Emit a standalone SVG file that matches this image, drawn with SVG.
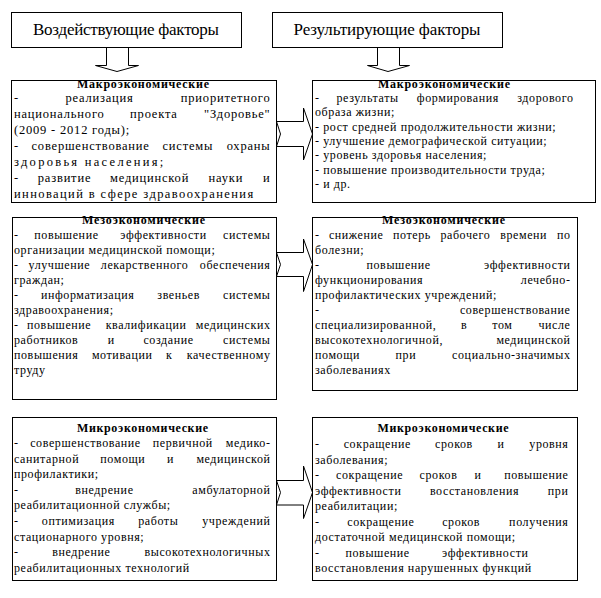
<svg xmlns="http://www.w3.org/2000/svg" width="601" height="598" viewBox="0 0 601 598" font-family="'Liberation Serif', 'Times New Roman', serif">
<style>
  .bx{fill:#fff;stroke:#000;stroke-width:1}
  .ar{fill:#fff;stroke:#000;stroke-width:1;stroke-linejoin:miter}
  text{font-family:'Liberation Serif','Times New Roman',serif;fill:#000}
  .h{font-size:17px;text-anchor:middle}
  .t{font-size:12px;font-weight:bold;text-anchor:middle}
  .b{font-size:12px;letter-spacing:0.6px}
  .b13{font-size:12.5px;letter-spacing:0.8px}
  .e{text-anchor:end}
</style>
<rect width="601" height="598" fill="#fff"/>

<g id="connectors">
  <polygon class="ar" points="106.5,47.5 106.5,65.5 95.5,65.5 117,71.5 138.5,65.5 128.5,65.5 128.5,47.5"/>
  <polygon class="ar" points="377.5,47.5 377.5,65.5 367.5,65.5 388,71.5 409.5,65.5 399.5,65.5 399.5,47.5"/>
  <polygon class="ar" points="276.5,121.5 303.5,121.5 303.5,108 312.5,134 303.5,160 303.5,146.5 276.5,146.5 280.5,134"/>
  <polygon class="ar" points="276.5,252.5 303.5,252.5 303.5,239 312.5,264.5 303.5,291.5 303.5,276.5 276.5,276.5 280.5,264.5"/>
  <polygon class="ar" points="276.5,480.5 303.5,480.5 303.5,466 312.5,492.5 303.5,518.5 303.5,505 276.5,505 280.5,492.5"/>
</g>

<g id="header-left">
  <rect class="bx" x="11.5" y="12.5" width="230" height="35"/>
  <text class="h" x="126" y="35" textLength="186" lengthAdjust="spacing">Воздействующие факторы</text>
</g>
<g id="header-right">
  <rect class="bx" x="272.5" y="12.5" width="230" height="35"/>
  <text class="h" x="387" y="35" textLength="187" lengthAdjust="spacing">Результирующие факторы</text>
</g>

<g id="macro-left">
  <rect class="bx" x="11.5" y="80.5" width="265" height="122"/>
  <text class="t" x="143" y="88" textLength="132" lengthAdjust="spacing">Макроэкономические</text>
  <text class="b13" x="14" y="102">-</text>
  <text class="b13" x="65.5" y="102">реализация</text>
  <text class="b13 e" x="270.5" y="102">приоритетного</text>
  <text class="b13" x="14" y="118">национального</text>
  <text class="b13" x="130.1" y="118">проекта</text>
  <text class="b13 e" x="270.5" y="118">"Здоровье"</text>
  <text class="b13" x="14" y="134">(2009 - 2012 годы);</text>
  <text class="b13" x="14" y="150">-</text>
  <text class="b13" x="31.5" y="150">совершенствование</text>
  <text class="b13" x="162.5" y="150">системы</text>
  <text class="b13 e" x="270.5" y="150">охраны</text>
  <text class="b13" x="14" y="166" textLength="150" lengthAdjust="spacing">здоровья населения;</text>
  <text class="b13" x="14" y="182">-</text>
  <text class="b13" x="37.8" y="182">развитие</text>
  <text class="b13" x="110" y="182">медицинской</text>
  <text class="b13" x="208.5" y="182">науки</text>
  <text class="b13 e" x="270.5" y="182">и</text>
  <text class="b13" x="14" y="198" textLength="240" lengthAdjust="spacing">инноваций в сфере здравоохранения</text>
</g>

<g id="macro-right">
  <rect class="bx" x="312.5" y="80.5" width="283" height="122"/>
  <text class="t" x="444" y="88" textLength="132" lengthAdjust="spacing">Макроэкономические</text>
  <text class="b" x="315" y="102">-</text>
  <text class="b" x="336.5" y="102">результаты</text>
  <text class="b" x="416.8" y="102">формирования</text>
  <text class="b e" x="573.5" y="102">здорового</text>
  <text class="b" x="315" y="116.3">образа жизни;</text>
  <text class="b" x="315" y="130.7">- рост средней продолжительности жизни;</text>
  <text class="b" x="315" y="145">- улучшение демографической ситуации;</text>
  <text class="b" x="315" y="159.3">- уровень здоровья населения;</text>
  <text class="b" x="315" y="173.7">- повышение производительности труда;</text>
  <text class="b" x="315" y="188">- и др.</text>
</g>

<g id="meso-left">
  <rect class="bx" x="12.5" y="217.5" width="264" height="182"/>
  <text class="t" x="143.5" y="224" textLength="123" lengthAdjust="spacing">Мезоэкономические</text>
  <text class="b" x="14" y="239">-</text>
  <text class="b" x="34.3" y="239">повышение</text>
  <text class="b" x="120.3" y="239">эффективности</text>
  <text class="b e" x="270.5" y="239">системы</text>
  <text class="b" x="14" y="254">организации медицинской помощи;</text>
  <text class="b" x="14" y="269">-</text>
  <text class="b" x="28.6" y="269">улучшение</text>
  <text class="b" x="100.8" y="269">лекарственного</text>
  <text class="b e" x="270.5" y="269">обеспечения</text>
  <text class="b" x="14" y="284">граждан;</text>
  <text class="b" x="14" y="299">-</text>
  <text class="b" x="40.9" y="299">информатизация</text>
  <text class="b" x="157.3" y="299">звеньев</text>
  <text class="b e" x="270.5" y="299">системы</text>
  <text class="b" x="14" y="314">здравоохранения;</text>
  <text class="b" x="14" y="329">-</text>
  <text class="b" x="27" y="329">повышение</text>
  <text class="b" x="105.7" y="329">квалификации</text>
  <text class="b e" x="270.5" y="329">медицинских</text>
  <text class="b" x="14" y="344">работников</text>
  <text class="b" x="107.7" y="344">и</text>
  <text class="b" x="143.4" y="344">создание</text>
  <text class="b e" x="270.5" y="344">системы</text>
  <text class="b" x="14" y="359">повышения</text>
  <text class="b" x="91.9" y="359">мотивации</text>
  <text class="b" x="166.1" y="359">к</text>
  <text class="b e" x="270.5" y="359">качественному</text>
  <text class="b" x="14" y="374">труду</text>
</g>

<g id="meso-right">
  <rect class="bx" x="312.5" y="217.5" width="265" height="173"/>
  <text class="t" x="443.5" y="224" textLength="123" lengthAdjust="spacing">Мезоэкономические</text>
  <text class="b" x="315" y="239">-</text>
  <text class="b" x="328.9" y="239">снижение</text>
  <text class="b" x="393" y="239">потерь</text>
  <text class="b" x="440.4" y="239">рабочего</text>
  <text class="b" x="500.2" y="239">времени</text>
  <text class="b e" x="570.5" y="239">по</text>
  <text class="b" x="315" y="254">болезни;</text>
  <text class="b" x="315" y="269">-</text>
  <text class="b" x="366.5" y="269">повышение</text>
  <text class="b e" x="570.5" y="269">эффективности</text>
  <text class="b" x="315" y="284">функционирования</text>
  <text class="b e" x="570.5" y="284">лечебно-</text>
  <text class="b" x="315" y="299">профилактических учреждений;</text>
  <text class="b" x="315" y="314">-</text>
  <text class="b e" x="570.5" y="314">совершенствование</text>
  <text class="b" x="315" y="329">специализированной,</text>
  <text class="b" x="461" y="329">в</text>
  <text class="b" x="492.3" y="329">том</text>
  <text class="b e" x="570.5" y="329">числе</text>
  <text class="b" x="315" y="344">высокотехнологичной,</text>
  <text class="b e" x="570.5" y="344">медицинской</text>
  <text class="b" x="315" y="359">помощи</text>
  <text class="b" x="395.6" y="359">при</text>
  <text class="b e" x="570.5" y="359">социально-значимых</text>
  <text class="b" x="315" y="374">заболеваниях</text>
</g>

<g id="micro-left">
  <rect class="bx" x="12.5" y="417.5" width="264" height="163"/>
  <text class="t" x="142.5" y="431.7" textLength="131" lengthAdjust="spacing">Микроэкономические</text>
  <text class="b" x="14" y="447">-</text>
  <text class="b" x="30.2" y="447">совершенствование</text>
  <text class="b" x="152.7" y="447">первичной</text>
  <text class="b e" x="270.5" y="447">медико-</text>
  <text class="b" x="14" y="462.6">санитарной</text>
  <text class="b" x="100.3" y="462.6">помощи</text>
  <text class="b" x="167" y="462.6">и</text>
  <text class="b e" x="270.5" y="462.6">медицинской</text>
  <text class="b" x="14" y="478.2">профилактики;</text>
  <text class="b" x="14" y="493.8">-</text>
  <text class="b" x="75.3" y="493.8">внедрение</text>
  <text class="b e" x="270.5" y="493.8">амбулаторной</text>
  <text class="b" x="14" y="509.4">реабилитационной службы;</text>
  <text class="b" x="14" y="525">-</text>
  <text class="b" x="41.8" y="525">оптимизация</text>
  <text class="b" x="138.2" y="525">работы</text>
  <text class="b e" x="270.5" y="525">учреждений</text>
  <text class="b" x="14" y="540.6">стационарного уровня;</text>
  <text class="b" x="14" y="556.2">-</text>
  <text class="b" x="52.2" y="556.2">внедрение</text>
  <text class="b e" x="270.5" y="556.2">высокотехнологичных</text>
  <text class="b" x="14" y="571.8">реабилитационных технологий</text>
</g>

<g id="micro-right">
  <rect class="bx" x="312.5" y="417.5" width="265" height="163"/>
  <text class="t" x="443" y="432" textLength="131" lengthAdjust="spacing">Микроэкономические</text>
  <text class="b" x="315" y="448.3">-</text>
  <text class="b" x="343.7" y="448.3">сокращение</text>
  <text class="b" x="435" y="448.3">сроков</text>
  <text class="b" x="497.5" y="448.3">и</text>
  <text class="b e" x="568.5" y="448.3">уровня</text>
  <text class="b" x="315" y="463.8">заболевания;</text>
  <text class="b" x="315" y="479.3">-</text>
  <text class="b" x="336" y="479.3">сокращение</text>
  <text class="b" x="419.6" y="479.3">сроков</text>
  <text class="b" x="474.4" y="479.3">и</text>
  <text class="b e" x="568.5" y="479.3">повышение</text>
  <text class="b" x="315" y="494.8">эффективности</text>
  <text class="b" x="429.9" y="494.8">восстановления</text>
  <text class="b e" x="568.5" y="494.8">при</text>
  <text class="b" x="315" y="510.3">реабилитации;</text>
  <text class="b" x="315" y="525.8">-</text>
  <text class="b" x="347.3" y="525.8">сокращение</text>
  <text class="b" x="442.2" y="525.8">сроков</text>
  <text class="b e" x="568.5" y="525.8">получения</text>
  <text class="b" x="315" y="541.3">достаточной медицинской помощи;</text>
  <text class="b" x="315" y="556.8">-</text>
  <text class="b" x="345.5" y="556.8">повышение</text>
  <text class="b e" x="528.5" y="556.8">эффективности</text>
  <text class="b" x="315" y="572.3">восстановления нарушенных функций</text>
</g>
</svg>
